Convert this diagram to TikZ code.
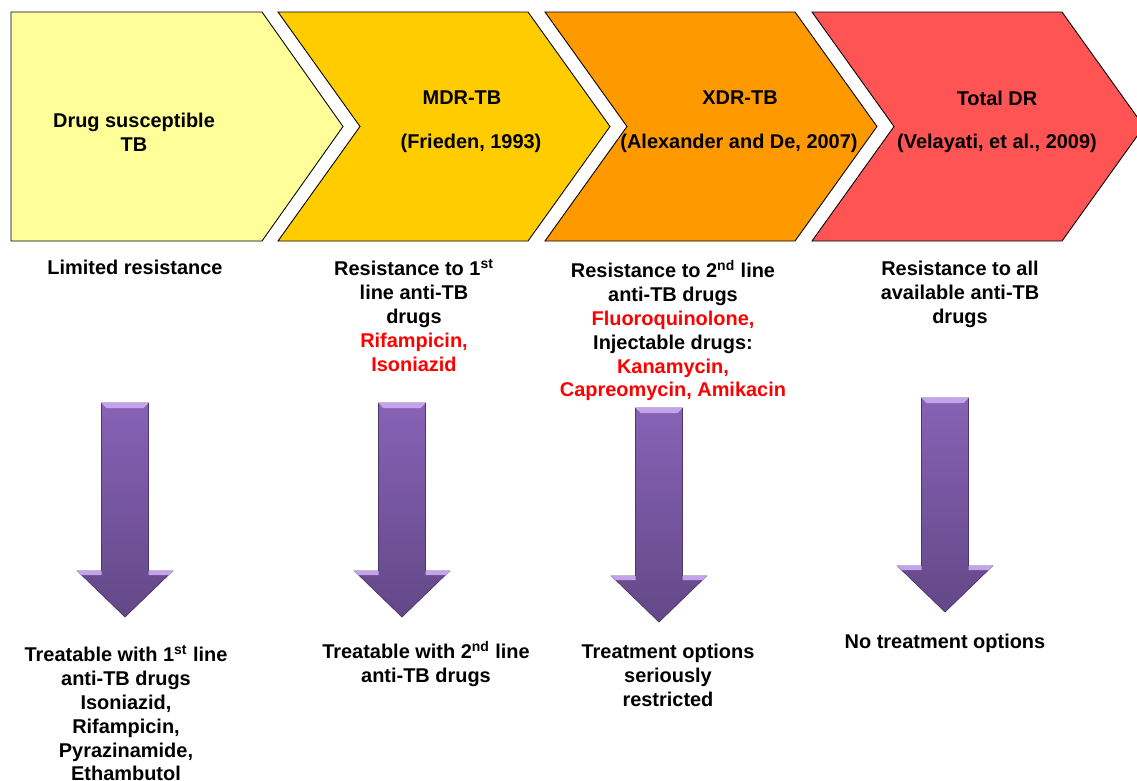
\documentclass[tikz,border=0pt]{standalone}
\usepackage{fontspec}
\setmainfont{Liberation Sans}
\usetikzlibrary{calc}
\definecolor{suscyellow}{HTML}{FFFF99}
\definecolor{mdrgold}{HTML}{FFCC00}
\definecolor{xdrorange}{HTML}{FF9900}
\definecolor{tdrred}{HTML}{FF5454}
\definecolor{arrowtop}{HTML}{8862B6}
\definecolor{arrowbot}{HTML}{634887}
\definecolor{arrowedge}{HTML}{4C366E}
\definecolor{arrowlight}{HTML}{C4A3EC}
\definecolor{drugred}{HTML}{FF0000}
\def\chevron[#1](#2){\draw[#1] (#2,12) -- ++(250,0) -- ++(82,114.5) -- ++(-82,114.5) -- ++(-250,0) -- ++(82,-114.5) -- cycle;}
\def\purplearrow(#1,#2){%
\draw[arrowbody] (#1-23.5,#2) -- ++(47,0) -- ++(0,168) -- ++(24,0) -- ++(-47.5,46) -- ++(-47.5,-46) -- ++(24,0) -- cycle;
\fill[arrowlight] (#1-23.5,#2) -- ++(47,0) -- ++(-5,5) -- ++(-37,0) -- cycle;
\fill[arrowlight] (#1-47.5,#2+168) -- ++(24,0) -- ++(0,4) -- ++(-20,0) -- cycle;
\fill[arrowlight] (#1+23.5,#2+168) -- ++(24,0) -- ++(-4,4) -- ++(-20,0) -- cycle;
\draw[arrowedge, line width=0.8pt] (#1+23.5,#2) -- ++(0,168);
}

\begin{document}
\begin{tikzpicture}[x=0.02cm, y=-0.02cm,
  txt/.style={font=\fontsize{11.35}{13.6}\selectfont\bfseries, align=center, inner sep=0pt},
  arrowbody/.style={draw=arrowedge, line width=0.4pt, top color=arrowtop, bottom color=arrowbot},
  stage/.style={draw=black, line width=0.5pt}]
%%%%% START %%%%%
\useasboundingbox (0,0) rectangle (1137,781);
\clip (0,0) rectangle (1137,781);

% stages
\draw[stage, fill=suscyellow] (11,12) -- (262,12) -- (343,126.5) -- (262,241) -- (11,241) -- cycle;
\chevron[stage, fill=mdrgold](278)
\chevron[stage, fill=xdrorange](545)
\chevron[stage, fill=tdrred](812)

\node[txt] (susc) at (134,132) {Drug susceptible\\TB};
\node[txt] (mdr) at (462,98) {MDR-TB};
\node[txt] (mdrcite) at (471,143) {(Frieden, 1993)};
\node[txt] (xdr) at (740,98) {XDR-TB};
\node[txt] (xdrcite) at (739,143) {(Alexander and De, 2007)};
\node[txt] (tdr) at (997,98) {Total DR};
\node[txt] (tdrcite) at (997,143) {(Velayati, et al., 2009)};

% resistance
\node[txt, anchor=north] (res1) at (135,260) {Limited resistance};
\node[txt, anchor=north] (res2) at (414,259) {Resistance to 1\textsuperscript{st}\\line anti-TB\\drugs\\
  \textcolor{drugred}{Rifampicin,}\\\textcolor{drugred}{Isoniazid}};
\node[txt, anchor=north] (res3) at (673,260) {Resistance to 2\textsuperscript{nd} line\\anti-TB drugs\\
  \textcolor{drugred}{Fluoroquinolone,}\\Injectable drugs:\\\textcolor{drugred}{Kanamycin,}\\
  \textcolor{drugred}{Capreomycin, Amikacin}};
\node[txt, anchor=north] (res4) at (960,261) {Resistance to all\\available anti-TB\\drugs};

% arrows
\purplearrow(125,403)
\purplearrow(402,403)
\purplearrow(659,408)
\purplearrow(945,398)

% treatment
\node[txt, anchor=north] (trt1) at (126,645) {Treatable with 1\textsuperscript{st} line\\anti-TB drugs\\Isoniazid,\\
  Rifampicin,\\Pyrazinamide,\\Ethambutol};
\node[txt, anchor=north] (trt2) at (426,641) {Treatable with 2\textsuperscript{nd} line\\anti-TB drugs};
\node[txt, anchor=north] (trt3) at (668,644) {Treatment options\\seriously\\restricted};
\node[txt, anchor=north] (trt4) at (945,634) {No treatment options};
%%%%% END %%%%%
\end{tikzpicture}
\end{document}
